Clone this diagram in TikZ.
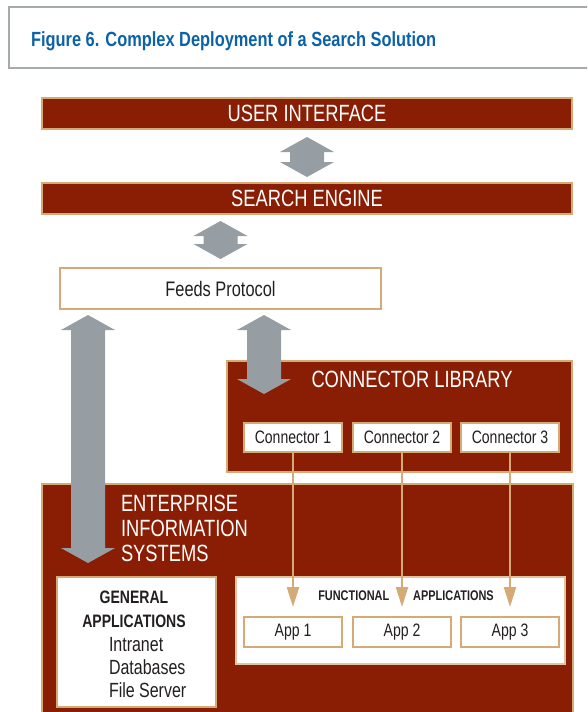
\documentclass[tikz,border=0pt]{standalone}
\usepackage{fontspec}
\setmainfont{Liberation Sans}[FakeStretch=0.78]
\newfontfamily\titlefont{Liberation Sans}[FakeStretch=0.8]
\usetikzlibrary{arrows.meta,calc}

\definecolor{brick}{RGB}{138,30,4}
\definecolor{sand}{RGB}{212,170,118}
\definecolor{slate}{RGB}{150,157,163}
\definecolor{titleblue}{RGB}{12,98,166}
\definecolor{framegray}{RGB}{165,170,175}
\definecolor{ink}{RGB}{35,31,32}

% grey two-headed block arrow between two points on one vertical line
\newcommand\dblarrow[2]{%
  \fill[slate] let \p1=(#1), \p2=(#2) in
    (\x1,\y1) -- (\x1+27pt,\y1-15pt) -- (\x1+17pt,\y1-15pt) -- (\x1+17pt,\y2+15pt)
    -- (\x1+27pt,\y2+15pt) -- (\x1,\y2) -- (\x1-27pt,\y2+15pt) -- (\x1-17pt,\y2+15pt)
    -- (\x1-17pt,\y1-15pt) -- (\x1-27pt,\y1-15pt) -- cycle;}

\begin{document}
\begin{tikzpicture}[x=1pt,y=-1pt,
  every node/.style={inner sep=0pt, outer sep=0pt},
  heading/.style={text=white, font=\fontsize{23.5}{25}\selectfont},
  bar/.style={heading, draw=sand, line width=1.5pt, fill=brick, anchor=north west,
    minimum width=530pt, minimum height=31pt},
  redbox/.style={draw=sand, line width=1.5pt, fill=brick, anchor=north west},
  whitebox/.style={draw=sand, line width=2.2pt, fill=white, text=ink, anchor=north west},
  smallbox/.style={whitebox, minimum width=98pt, font=\fontsize{18}{20}\selectfont},
  plain/.style={text=ink, anchor=base},
  feed/.style={sand, line width=2.5pt, -{Triangle[width=12pt,length=20pt]}}
]
\useasboundingbox (0,0) rectangle (587,712);
\clip (0,0) rectangle (587,712);

% title frame
\node[draw=framegray, line width=1.5pt, anchor=north west,
      minimum width=600pt, minimum height=61pt] (titlebox) at (9,7) {};
\node[anchor=base west, text=titleblue, font=\titlefont\bfseries\fontsize{20.5}{22}\selectfont]
      (title) at (31,46) {Figure 6. Complex Deployment of a Search Solution};

% top layers
\node[bar] (ui) at (42,98) {USER INTERFACE};
\node[bar] (se) at (42,183) {SEARCH ENGINE};
\node[whitebox, minimum width=321pt, minimum height=41pt,
      font=\fontsize{21}{24}\selectfont] (feeds) at (60,268) {Feeds Protocol};

% connector library
\node[redbox, minimum width=345pt, minimum height=111pt] (conlib) at (227,361) {};
\node[heading, anchor=base] (conlibtxt) at (412,387) {CONNECTOR LIBRARY};
\foreach \i/\px in {1/244,2/353,3/461}
  \node[smallbox, minimum height=29pt] (c\i) at (\px,423) {Connector \i};

% enterprise information systems
\node[redbox, minimum width=531pt, minimum height=250pt] (ent) at (42,484) {};
\node[heading, anchor=north west, align=left] (enttxt) at (121,495)
      {ENTERPRISE\\INFORMATION\\SYSTEMS};

\node[whitebox, minimum width=159pt, minimum height=130pt] (gen) at (57,577) {};
\node[plain, font=\bfseries\fontsize{18}{20}\selectfont] (gen1) at (134,603) {GENERAL};
\node[plain, font=\bfseries\fontsize{18}{20}\selectfont] (gen2) at (134,627) {APPLICATIONS};
\node[plain, anchor=base west, font=\fontsize{20.5}{22}\selectfont] (gen3) at (109,651) {Intranet};
\node[plain, anchor=base west, font=\fontsize{20.5}{22}\selectfont] (gen4) at (109,674) {Databases};
\node[plain, anchor=base west, font=\fontsize{20.5}{22}\selectfont] (gen5) at (109,697) {File Server};

\node[whitebox, draw=sand!70, line width=1.8pt, minimum width=329pt, minimum height=87pt]
      (func) at (236,577) {};
\node[plain, font=\bfseries\fontsize{14}{16}\selectfont] (functxt) at (406,600)
      {FUNCTIONAL\hspace{24pt}APPLICATIONS};
\foreach \i/\px in {1/244,2/353,3/461}
  \node[smallbox, minimum height=30pt] (app\i) at (\px,617) {App \i};

% grey block arrows
\coordinate (a1t) at ($(ui.south)+(0,8)$);
\coordinate (a1b) at ($(se.north)+(0,-6)$);
\coordinate (a2t) at ($(feeds.north |- se.south)+(0,7)$);
\coordinate (a2b) at ($(feeds.north)+(0,-9)$);
\coordinate (a3t) at ($(feeds.south west)+(204,6)$);
\coordinate (a3b) at ($(conlib.north west)+(37,33)$);
\coordinate (a4t) at ($(feeds.south west)+(28,6)$);
\coordinate (a4b) at ($(ent.north west)+(46,79)$);
\dblarrow{a1t}{a1b}
\dblarrow{a2t}{a2b}
\dblarrow{a3t}{a3b}
\dblarrow{a4t}{a4b}

% connectors feeding the functional applications
\foreach \i in {1,2,3} {
  \coordinate (tip\i) at ($(app\i.north)+(0,-10)$);
  \draw[feed] (c\i.south) -- (tip\i);
}
\end{tikzpicture}
\end{document}
